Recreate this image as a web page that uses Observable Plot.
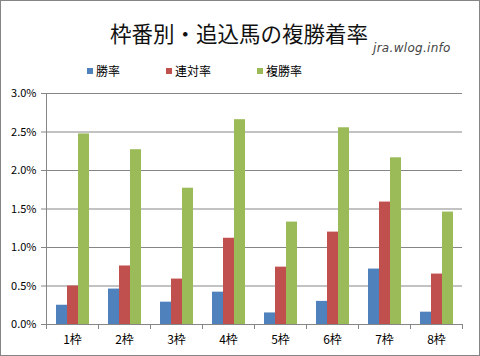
<!DOCTYPE html>
<html><head><meta charset="utf-8">
<script src="https://cdn.jsdelivr.net/npm/d3@7"></script>
<script src="https://cdn.jsdelivr.net/npm/@observablehq/plot@0.6"></script>
<style>
body{margin:0;background:#fff;}
#wrap{position:relative;width:480px;height:356px;overflow:hidden;font-family:"Noto Sans CJK JP",sans-serif;background:#fff;}
#border{position:absolute;left:0;top:0;width:480px;height:356px;box-sizing:border-box;border:1px solid #868686;pointer-events:none;}
#title{position:absolute;left:0;width:478px;top:18px;text-align:center;font-size:21.5px;line-height:30px;color:#111;white-space:nowrap;}
#wm{position:absolute;left:373px;top:40px;font-size:12px;line-height:16px;font-style:italic;color:#444;font-family:"DejaVu Sans",sans-serif;letter-spacing:0.3px;}
#legend{position:absolute;left:87px;top:62px;display:flex;align-items:center;font-size:12px;line-height:18px;color:#000;}
#legend .item{display:flex;align-items:center;margin-right:46px;}
#legend .sw{width:6px;height:6px;margin-right:3px;}
#chart{position:absolute;left:0;top:80px;}
</style></head>
<body>
<div id="wrap">
  <div id="title"></div>
  <div id="wm"></div>
  <div id="legend"></div>
  <div id="chart"></div>
  <div id="border"></div>
</div>
<script>
const titleText = "枠番別・追込馬の複勝着率";
const watermark = "jra.wlog.info";
const categories = ["1枠","2枠","3枠","4枠","5枠","6枠","7枠","8枠"];
const series = ["勝率","連対率","複勝率"];
const winRate     = [0.25, 0.46, 0.29, 0.42, 0.15, 0.30, 0.72, 0.16];
const rentaiRate  = [0.50, 0.76, 0.59, 1.12, 0.745, 1.20, 1.59, 0.655];
const fukushoRate = [2.475, 2.27, 1.77, 2.66, 1.33, 2.555, 2.165, 1.46];
const colors = ["#4F81BD","#C0504D","#9BBB59"];
const yTicks = [0, 0.5, 1.0, 1.5, 2.0, 2.5, 3.0];

const seriesValues = [winRate, rentaiRate, fukushoRate];
const rows = categories.flatMap((c, i) => series.map((s, j) => ({cat: c, series: s, value: seriesValues[j][i]})));

document.getElementById("title").textContent = titleText;
document.getElementById("wm").textContent = watermark;
const legend = document.getElementById("legend");
series.forEach((s, j) => {
  const item = document.createElement("div");
  item.className = "item";
  const sw = document.createElement("div");
  sw.className = "sw";
  sw.style.background = colors[j];
  const t = document.createElement("span");
  t.textContent = s;
  item.appendChild(sw); item.appendChild(t);
  legend.appendChild(item);
});

const grid = "#868686";
const chart = Plot.plot({
  width: 480, height: 273,
  marginTop: 13, marginBottom: 25, marginLeft: 43, marginRight: 14.5,
  style: {fontFamily: '"Noto Sans CJK JP", sans-serif', fontSize: "11px", color: "#000", background: "transparent", overflow: "visible"},
  fx: {domain: categories, paddingInner: 0, paddingOuter: 0, label: null, axis: null},
  x: {domain: series, paddingInner: 0, paddingOuter: 0.76, axis: null},
  y: {domain: [0, 3], insetBottom: 4, label: null, axis: null},
  color: {domain: series, range: colors},
  marks: [
    Plot.gridY(yTicks, {stroke: grid, strokeOpacity: 1}),
    Plot.barY(rows, {fx: "cat", x: "series", y: "value", fill: "series"}),
    Plot.frame({anchor: "left", insetTop: 231, stroke: grid}),
    Plot.frame({anchor: "right", insetTop: 231, stroke: grid}),
    Plot.frame({anchor: "left", facetAnchor: "left", stroke: grid}),
    Plot.axisY(yTicks, {tickSize: 5, tickPadding: 5, stroke: grid, fill: "#000", tickFormat: d => d.toFixed(1) + "%", label: null}),
    Plot.axisFx({anchor: "bottom", tickSize: 0, tickPadding: 7, fill: "#000", label: null, fontSize: 12})
  ]
});
document.getElementById("chart").appendChild(chart);
</script>
</body></html>
